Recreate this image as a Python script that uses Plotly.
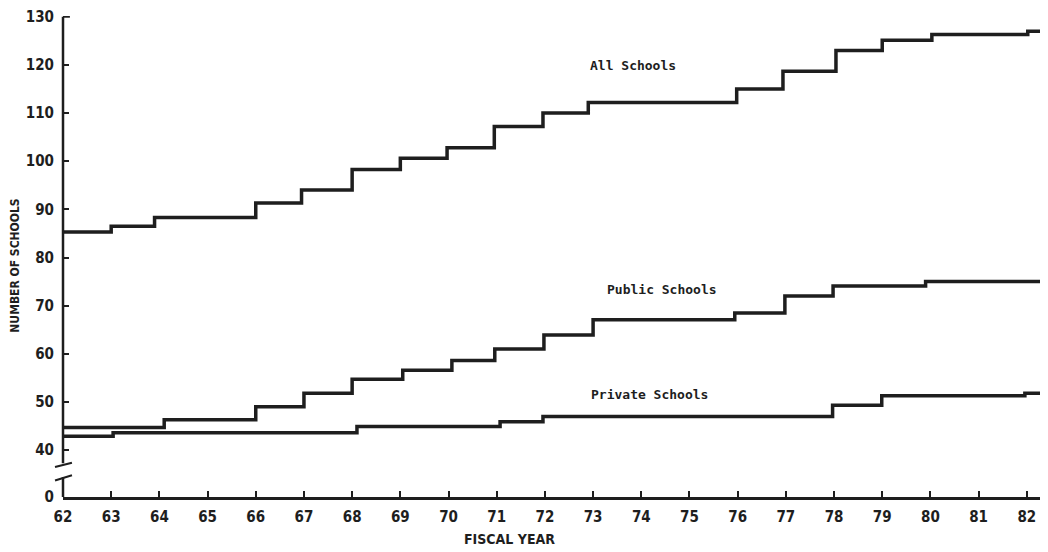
import plotly.graph_objects as go

# ---- data ----
all_years = [62.0, 63.0, 63.9, 66.0, 66.95, 68.0, 69.0, 69.97, 70.95, 71.96, 72.9, 75.98, 76.94, 78.04, 79.0, 80.03, 82.02, 82.44]
all_vals = [85.3, 86.5, 88.3, 91.3, 94.0, 98.3, 100.6, 102.8, 107.2, 110.0, 112.2, 115.0, 118.7, 123.0, 125.1, 126.3, 127.0, 127.0]

public_years = [62.0, 64.1, 66.0, 67.0, 68.0, 69.05, 70.07, 70.96, 71.98, 73.0, 75.94, 76.98, 77.98, 79.9, 82.44]
public_vals = [44.7, 46.3, 49.0, 51.8, 54.7, 56.6, 58.6, 61.0, 63.9, 67.1, 68.5, 72.0, 74.1, 75.0, 75.0]

private_years = [62.0, 63.04, 68.1, 71.07, 71.96, 77.97, 78.99, 81.96, 82.44]
private_vals = [42.9, 43.6, 44.9, 45.9, 47.0, 49.3, 51.3, 51.8, 51.8]

x_ticks = list(range(62, 83))
y_ticks = [40, 50, 60, 70, 80, 90, 100, 110, 120, 130]
y_zero_pos = 30.27  # axis position used for the "0" label below the break
y_top = 130.15

labels = ["All Schools", "Public Schools", "Private Schools"]
label_x = [73.83, 74.43, 74.18]
label_y = [119.9, 73.3, 51.6]

INK = "#1e1e1e"
COND = "DejaVu Sans Condensed, Liberation Sans, sans-serif"
TICKFONT = dict(family=COND, size=15, color=INK, weight="bold")

fig = go.Figure()
for xs, ys, name in [(all_years, all_vals, labels[0]),
                     (public_years, public_vals, labels[1]),
                     (private_years, private_vals, labels[2])]:
    fig.add_trace(go.Scatter(x=xs, y=ys, mode="lines", name=name,
                             line=dict(color=INK, width=3.5, shape="hv"),
                             showlegend=False, cliponaxis=False))

for t, lx, ly in zip(labels, label_x, label_y):
    fig.add_annotation(x=lx, y=ly, text=t, showarrow=False, xref="x", yref="y",
                       xanchor="center", yanchor="middle",
                       font=dict(family="DejaVu Sans Mono", size=13, color=INK, weight="bold"))

# axis titles
fig.add_annotation(x=-0.0487, y=0.481, xref="paper", yref="paper", text="NUMBER OF SCHOOLS",
                   textangle=-90, showarrow=False, xanchor="center", yanchor="middle",
                   font=dict(family=COND, size=12, color=INK, weight="bold"))
fig.add_annotation(x=0.453, y=-0.087, xref="paper", yref="paper", text="FISCAL YEAR",
                   showarrow=False, xanchor="center", yanchor="middle",
                   font=dict(family=COND, size=14, color=INK, weight="bold"))

# y axis line with a break
brk_lo, brk_hi = 34.4, 37.3
line_style = dict(color=INK, width=2.5)
fig.add_shape(type="line", xref="paper", yref="y", x0=0, x1=0, y0=y_zero_pos, y1=brk_lo, line=line_style)
fig.add_shape(type="line", xref="paper", yref="y", x0=0, x1=0, y0=brk_hi, y1=130, line=line_style)
fig.add_shape(type="line", xref="paper", yref="y", x0=-0.0081, x1=0.0091, y0=36.5, y1=37.4, line=dict(color=INK, width=2))
fig.add_shape(type="line", xref="paper", yref="y", x0=-0.0081, x1=0.0091, y0=33.7, y1=34.8, line=dict(color=INK, width=2))
# short tick at the top of the axis
fig.add_shape(type="line", xref="paper", yref="y", x0=0, x1=0.007, y0=130, y1=130, line=dict(color=INK, width=2))

fig.update_layout(
    width=1040, height=544,
    margin=dict(l=55, r=0, t=6, b=55),
    plot_bgcolor="white", paper_bgcolor="white",
    xaxis=dict(range=[62, 82.44], tickvals=x_ticks, ticktext=[str(v) for v in x_ticks],
               showgrid=False, zeroline=False, showline=True, linecolor=INK, linewidth=2.5,
               ticks="inside", ticklen=6, tickwidth=2, tickcolor=INK,
               tickfont=TICKFONT, ticklabelstandoff=4),
    yaxis=dict(range=[y_zero_pos, y_top], tickvals=[y_zero_pos] + y_ticks,
               ticktext=["0"] + [str(v) for v in y_ticks],
               showgrid=False, zeroline=False, showline=False,
               ticks="inside", ticklen=6, tickwidth=2, tickcolor=INK,
               tickfont=TICKFONT, ticklabelstandoff=8, ticklabeloverflow="allow"),
)

fig.write_html("out.html")
